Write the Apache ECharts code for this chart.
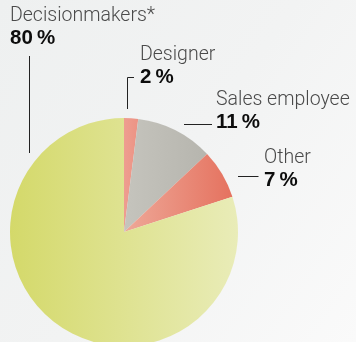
<!DOCTYPE html>
<html>
<head>
<meta charset="utf-8">
<script src="https://cdn.jsdelivr.net/npm/echarts@6/dist/echarts.min.js"></script>
<style>
  html, body { margin: 0; padding: 0; }
  body {
    width: 356px; height: 342px; overflow: hidden;
    background: linear-gradient(125deg, #eef0f0 0%, #f2f3f3 50%, #fafafa 100%);
  }
  #chart { width: 356px; height: 342px; }
</style>
</head>
<body>
<div id="chart"></div>
<script>
// data
const categories = ['Designer', 'Sales employee', 'Other', 'Decisionmakers*']
const shares = [2, 11, 7, 80]

// slice colours (left -> right gradient)
const sliceColors = [
  ['#ee9d90', '#ec9384'],
  ['#c5c4bd', '#b6b5ae'],
  ['#eea898', '#e5725f'],
  ['#d4d96a', '#e9ecb8']
]
// label boxes and leader lines, page pixels
const labelBoxes = [
  { x: 140, y: 44, line: [[127.5, 109], [127.5, 77.5], [134, 77.5]] },
  { x: 216, y: 89, line: [[184, 124.5], [198, 124.5], [212, 124.5]] },
  { x: 264, y: 147, line: [[238, 176.5], [248, 176.5], [258.5, 176.5]] },
  { x: 10, y: 5, line: [[29.5, 153], [29.5, 100], [29.5, 56]] }
]

const myChart = echarts.init(document.getElementById('chart'), null, { renderer: 'canvas' })

const option = {
  backgroundColor: 'transparent',
  animation: false,
  series: [
    {
      type: 'pie',
      center: [124, 232],
      radius: 114,
      startAngle: 90,
      clockwise: true,
      silent: true,
      avoidLabelOverlap: false,
      minShowLabelAngle: 0,
      data: categories.map((name, i) => ({
        name: name,
        value: shares[i],
        itemStyle: {
          color: new echarts.graphic.LinearGradient(0, 0, 1, 0, [
            { offset: 0, color: sliceColors[i][0] },
            { offset: 1, color: sliceColors[i][1] }
          ])
        }
      })),
      label: {
        show: true,
        position: 'outside',
        alignTo: 'none',
        overflow: 'none',
        formatter: p => '{n|' + p.name + '}\n{p|' + p.value + '\u2009%}',
        rich: {
          n: { fontFamily: 'Roboto', fontWeight: 300, fontSize: 19.5, lineHeight: 22, color: '#4a4a4a' },
          p: { fontFamily: 'Liberation Sans', fontWeight: 'bold', fontSize: 20.5, lineHeight: 23, color: '#0d0d0d' }
        }
      },
      labelLine: {
        show: true,
        lineStyle: { color: '#222222', width: 1 }
      },
      labelLayout: function (params) {
        const b = labelBoxes[params.dataIndex]
        return {
          x: b.x,
          y: b.y,
          align: 'left',
          verticalAlign: 'top',
          hideOverlap: false,
          labelLinePoints: b.line
        }
      }
    }
  ]
}

myChart.setOption(option)
</script>
</body>
</html>
